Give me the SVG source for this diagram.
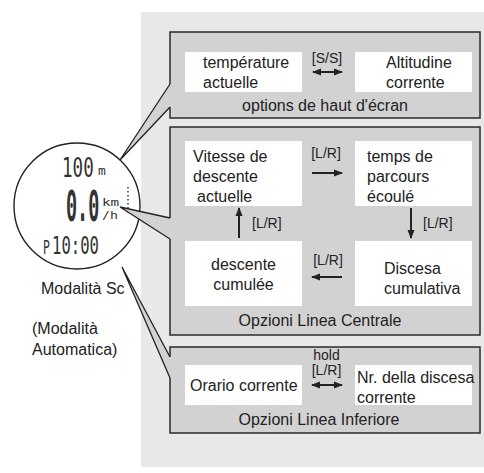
<svg xmlns="http://www.w3.org/2000/svg" width="484" height="473" viewBox="0 0 484 473">
<style>
.t{font-family:"Liberation Sans",Arial,sans-serif;font-size:16px;fill:#222}
.s{font-family:"Liberation Sans",Arial,sans-serif;font-size:14px;fill:#222}
.box{fill:#d2d2d2;stroke:#2a2a2a;stroke-width:1.5}
.w{fill:#fff}
.ar{stroke:#222;stroke-width:2;fill:none}
.wl{stroke:#222;stroke-width:1.3;fill:none}
.wf{fill:#d2d2d2}
.lcd{font-family:"DejaVu Sans Mono","Liberation Mono",monospace;fill:#333}
</style>
<defs>
<marker id="ah" markerWidth="9" markerHeight="8" refX="8" refY="4" orient="auto-start-reverse" markerUnits="userSpaceOnUse">
<path d="M0,0.5 L9,4 L0,7.5 Z" fill="#222"/>
</marker>
<pattern id="dots" width="2" height="2" patternUnits="userSpaceOnUse">
<rect width="2" height="2" fill="#bbb"/>
<rect width="1.4" height="1.4" fill="#222"/>
</pattern>
</defs>
<rect x="141" y="12" width="343" height="455" fill="#e8e8e8"/>

<g id="watch">
<circle cx="77" cy="206" r="63" fill="#fff" stroke="#222" stroke-width="1.4"/>
<text class="lcd" transform="translate(62,177) scale(0.65,1)" font-size="27">100</text>
<text class="lcd" x="98" y="175" font-size="13">m</text>
<text class="lcd" transform="translate(66,221) scale(0.44,1)" font-size="42" font-weight="bold" fill="url(#dots)">0.0</text>
<text class="lcd" transform="translate(102,206) scale(1.3,1)" font-size="11">km</text>
<text class="lcd" transform="translate(102,219) scale(1.2,1)" font-size="11">/h</text>
<line x1="128" y1="187" x2="128" y2="212" stroke="#333" stroke-width="1.5" stroke-dasharray="1.5,2.5"/>
<text class="lcd" transform="translate(43,253.5) scale(0.6,1)" font-size="19">P</text>
<text class="lcd" transform="translate(52,253.5) scale(0.65,1)" font-size="24">10:00</text>
</g>

<text class="t" x="41" y="294">Modalità Sc</text>
<text class="t" x="32" y="334">(Modalità</text>
<text class="t" x="32" y="355">Automatica)</text>

<g id="top">
<rect class="box" x="170" y="32" width="310" height="86"/>
<rect class="w" x="185" y="52" width="117" height="40"/>
<rect class="w" x="355" y="52" width="117" height="40"/>
<text class="t" x="203" y="68">température</text>
<text class="t" x="203" y="88">actuelle</text>
<text class="t" x="386" y="68">Altitudine</text>
<text class="t" x="386" y="88">corrente</text>
<text class="t" x="325" y="111" text-anchor="middle">options de haut d'écran</text>
</g>

<g id="middle">
<rect class="box" x="170" y="127" width="310" height="208"/>
<rect class="w" x="185" y="141" width="117" height="65"/>
<rect class="w" x="355" y="141" width="117" height="65"/>
<rect class="w" x="185" y="241" width="117" height="65"/>
<rect class="w" x="355" y="241" width="117" height="65"/>
<text class="t" x="193" y="162">Vitesse de</text>
<text class="t" x="193" y="182">descente</text>
<text class="t" x="197" y="202">actuelle</text>
<text class="t" x="367" y="162">temps de</text>
<text class="t" x="367" y="182">parcours</text>
<text class="t" x="367" y="202">écoulé</text>
<text class="t" x="243.5" y="270" text-anchor="middle">descente</text>
<text class="t" x="243.5" y="290" text-anchor="middle">cumulée</text>
<text class="t" x="384" y="274">Discesa</text>
<text class="t" x="384" y="294">cumulativa</text>
<text class="t" x="320" y="326" text-anchor="middle">Opzioni Linea Centrale</text>
</g>

<g id="bottom">
<rect class="box" x="170" y="347" width="310" height="86"/>
<rect class="w" x="185" y="365" width="117" height="40"/>
<rect class="w" x="355" y="365" width="117" height="40"/>
<text class="t" x="190" y="391">Orario corrente</text>
<text class="t" x="357" y="383">Nr. della discesa</text>
<text class="t" x="357" y="403">corrente</text>
<text class="t" x="319" y="425" text-anchor="middle">Opzioni Linea Inferiore</text>
</g>

<g id="callouts">
<polygon class="wf" points="120,160 170,84 171.5,84 171.5,107 170,107"/>
<polyline class="wl" points="170,84 120,160 170,107"/>
<polygon class="wf" points="120,207 170,218 171.5,218 171.5,239 170,239"/>
<polyline class="wl" points="170,218 120,207 170,239"/>
<polygon class="wf" points="122,267 170,357 171.5,357 171.5,378 170,378"/>
<polyline class="wl" points="170,357 122,267 170,378"/>
</g>

<g id="connectors">
<text class="s" x="327" y="63" text-anchor="middle">[S/S]</text>
<line class="ar" x1="313" y1="72" x2="342" y2="72" marker-start="url(#ah)" marker-end="url(#ah)"/>
<text class="s" x="326" y="158" text-anchor="middle">[L/R]</text>
<line class="ar" x1="312" y1="173" x2="342" y2="173" marker-end="url(#ah)"/>
<text class="s" x="252" y="228">[L/R]</text>
<line class="ar" x1="239" y1="238" x2="239" y2="208" marker-end="url(#ah)"/>
<text class="s" x="423" y="228">[L/R]</text>
<line class="ar" x1="411" y1="208" x2="411" y2="238" marker-end="url(#ah)"/>
<text class="s" x="328" y="265" text-anchor="middle">[L/R]</text>
<line class="ar" x1="342" y1="277" x2="312" y2="277" marker-end="url(#ah)"/>
<text class="s" x="326.5" y="360" text-anchor="middle" font-size="13">hold</text>
<text class="s" x="326.5" y="375" text-anchor="middle" font-size="13">[L/R]</text>
<line class="ar" x1="312" y1="385" x2="342" y2="385" marker-start="url(#ah)" marker-end="url(#ah)"/>
</g>
</svg>
